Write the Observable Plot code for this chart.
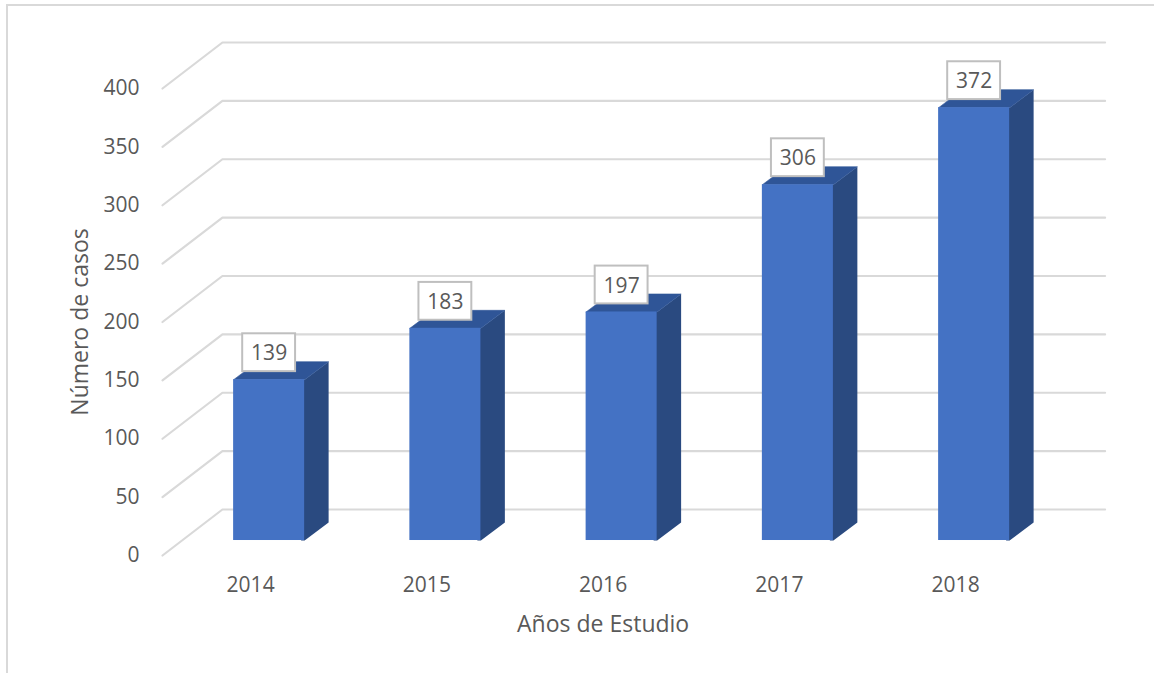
<!DOCTYPE html>
<html><head><meta charset="utf-8">
<script src="https://cdn.jsdelivr.net/npm/d3@7"></script>
<script src="https://cdn.jsdelivr.net/npm/@observablehq/plot@0.6"></script>
<style>
html,body{margin:0;padding:0;background:#fff;overflow:hidden;width:1154px;height:673px}
#chart{position:absolute;left:0;top:0}
#border{position:absolute;left:5.5px;top:4px;width:1200px;height:800px;border-left:2px solid #d9d9d9;border-top:2px solid #d9d9d9}
</style></head><body>
<div id="border"></div><div id="chart"></div>
<script>
const years = [2014, 2015, 2016, 2017, 2018];
const cases = [139, 183, 197, 306, 372];
const yTicks = [0, 50, 100, 150, 200, 250, 300, 350, 400];
const xTitle = ["Años de Estudio"];
const yTitle = ["Número de casos"];

// projection of the pseudo-3D chart, in scale units (categories / cases)
const wallDX = 0.34, wallDY = 39.4, wallEnd = 0.008;
const barDX = 0.105, barBase = 12.84, barTop = 11.6;
const barW = 0.403, sideDX = 0.136, sideDY = 15.4, overlap = 0.02;
const boxW = 0.30, boxH = 32.4, boxUp = 23.1;
const nCat = years.length;

const bars = years.map((year, i) => {
  const v = cases[i], x1 = i + 0.5 + barDX - barW / 2, x2 = x1 + barW;
  return {year, v, i, x1, x2, x3: x2 + sideDX, y0: barBase, y1: v + barTop};
});
const gridPts = yTicks.flatMap(t => [
  {t, x: 0, y: t},
  {t, x: wallDX, y: t + wallDY},
  {t, x: nCat + wallDX + wallEnd, y: t + wallDY}
]);
const sidePts = bars.flatMap(b => [
  {k: b.year, x: b.x2 - overlap, y: b.y0},
  {k: b.year, x: b.x2, y: b.y0},
  {k: b.year, x: b.x3, y: b.y0 + sideDY},
  {k: b.year, x: b.x3, y: b.y1 + sideDY},
  {k: b.year, x: b.x2, y: b.y1},
  {k: b.year, x: b.x2 - overlap, y: b.y1}
]);
const topPts = bars.flatMap(b => [
  {k: b.year, x: b.x1, y: b.y1},
  {k: b.year, x: b.x1 + sideDX, y: b.y1 + sideDY},
  {k: b.year, x: b.x3, y: b.y1 + sideDY},
  {k: b.year, x: b.x2, y: b.y1}
]);
const xm = b => (b.x1 + b.x2) / 2;

const chart = Plot.plot({
  width: 1154, height: 673,
  marginLeft: 162, marginRight: 110.75, marginTop: 88, marginBottom: 118,
  x: {domain: [0, nCat], range: [162, 1043.25]},
  y: {domain: [0, 400], range: [555, 88]},
  style: {fontFamily: "'Open Sans', sans-serif", fontSize: "21px", color: "#595959", background: "transparent"},
  marks: [
    Plot.line(gridPts, {x: "x", y: "y", z: "t", stroke: "#d9d9d9", strokeWidth: 2.2, curve: "linear"}),
    Plot.line(sidePts, {x: "x", y: "y", z: "k", fill: "#2a4a80", stroke: "none"}),
    Plot.line(topPts, {x: "x", y: "y", z: "k", fill: "#2f5597", stroke: "#2f5597", strokeWidth: 0.6}),
    Plot.rect(bars, {x1: "x1", x2: "x2", y1: "y0", y2: "y1", fill: "#4472c4"}),
    Plot.rect(bars, {x1: b => xm(b) - boxW / 2, x2: b => xm(b) + boxW / 2,
      y1: b => b.y1 + boxUp - boxH / 2, y2: b => b.y1 + boxUp + boxH / 2,
      fill: "white", stroke: "#bfbfbf", strokeWidth: 2}),
    Plot.text(bars, {x: xm, y: b => b.y1 + boxUp, dy: 1, text: b => String(b.v), fill: "#595959", fontSize: 21}),
    Plot.axisY({ticks: yTicks, tickSize: 0, tickPadding: 23, tickFormat: d => String(d), label: null}),
    Plot.axisX({ticks: years.map((_, i) => i + 0.5), tickFormat: d => String(years[Math.floor(d)]),
      tickSize: 0, tickPadding: 22, label: null}),
    Plot.text(yTitle, {frameAnchor: "left", textAnchor: "middle", dx: -82, rotate: -90, fontSize: 23, fill: "#595959"}),
    Plot.text(xTitle, {frameAnchor: "bottom", lineAnchor: "middle", dy: 69, fontSize: 23, fill: "#595959"})
  ]
});
document.getElementById("chart").append(chart);
</script></body></html>
